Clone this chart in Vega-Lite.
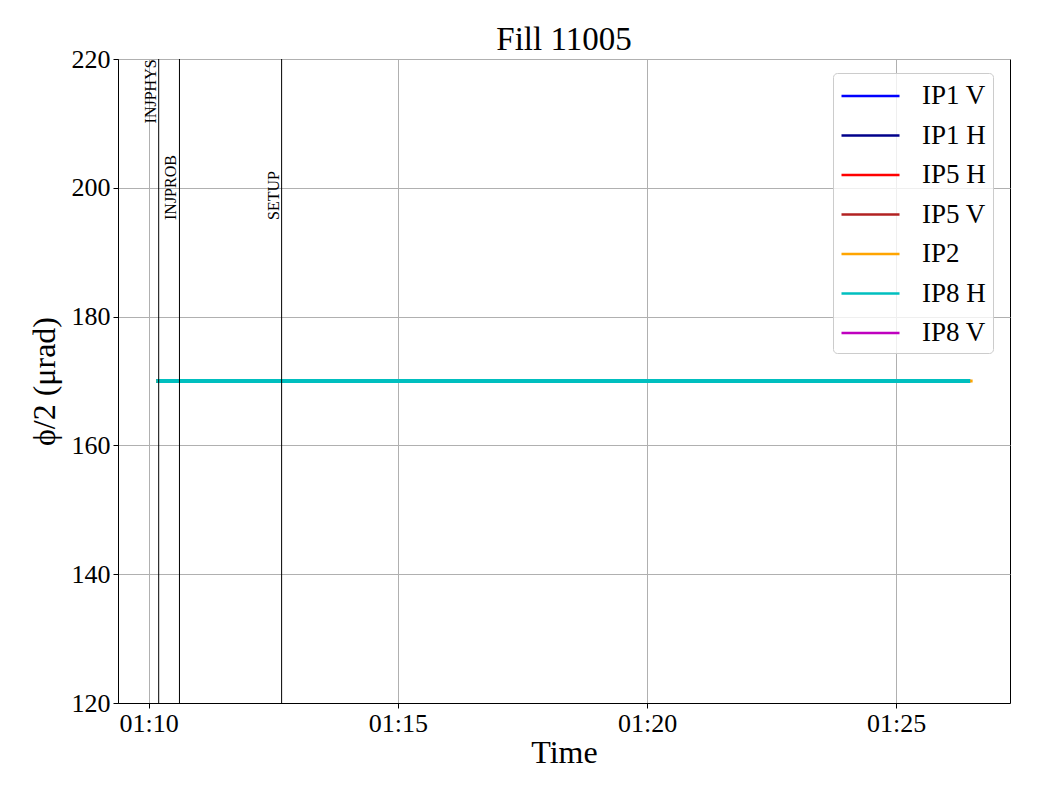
{
  "$schema": "https://vega.github.io/schema/vega-lite/v6.json",
  "width": 892,
  "height": 644,
  "autosize": "none",
  "padding": {"left": 118, "top": 59, "right": 30, "bottom": 97},
  "background": "white",
  "config": {
    "font": "Liberation Serif",
    "view": {"stroke": "black", "strokeWidth": 1},
    "axis": {
      "labelFont": "Liberation Serif",
      "titleFont": "Liberation Serif",
      "labelFontSize": 26,
      "titleFontSize": 32,
      "titleFontWeight": "normal",
      "labelColor": "black",
      "titleColor": "black",
      "domainColor": "black",
      "tickColor": "black",
      "tickSize": 5,
      "gridColor": "#b0b0b0",
      "gridWidth": 1,
      "grid": true
    }
  },
  "title": {
    "text": "Fill 11005",
    "font": "Liberation Serif",
    "fontSize": 33,
    "fontWeight": "normal",
    "color": "black",
    "anchor": "middle",
    "offset": -11
  },
  "datasets": {
    "series": [
      {"t": "2025-08-01T01:10:09Z", "value": 170, "series": "IP1 V"},
      {"t": "2025-08-01T01:26:29Z", "value": 170, "series": "IP1 V"},
      {"t": "2025-08-01T01:10:09Z", "value": 170, "series": "IP1 H"},
      {"t": "2025-08-01T01:26:29Z", "value": 170, "series": "IP1 H"},
      {"t": "2025-08-01T01:10:09Z", "value": 170, "series": "IP5 H"},
      {"t": "2025-08-01T01:26:29Z", "value": 170, "series": "IP5 H"},
      {"t": "2025-08-01T01:10:09Z", "value": 170, "series": "IP5 V"},
      {"t": "2025-08-01T01:26:29Z", "value": 170, "series": "IP5 V"},
      {"t": "2025-08-01T01:10:09Z", "value": 170, "series": "IP2"},
      {"t": "2025-08-01T01:26:32Z", "value": 170, "series": "IP2"},
      {"t": "2025-08-01T01:10:09Z", "value": 170, "series": "IP8 H"},
      {"t": "2025-08-01T01:26:29Z", "value": 170, "series": "IP8 H"}
    ],
    "events": [
      {"t": "2025-08-01T01:10:12Z", "label": "INJPHYS", "ly": 210},
      {"t": "2025-08-01T01:10:37Z", "label": "INJPROB", "ly": 195},
      {"t": "2025-08-01T01:12:40Z", "label": "SETUP", "ly": 195}
    ]
  },
  "layer": [
    {
      "data": {"name": "series"},
      "mark": {"type": "line"},
      "encoding": {
        "x": {
          "field": "t",
          "type": "temporal",
          "title": "Time",
          "scale": {
            "type": "utc",
            "domain": [
              {"year": 2025, "month": 8, "date": 1, "hours": 1, "minutes": 9, "seconds": 23, "utc": true},
              {"year": 2025, "month": 8, "date": 1, "hours": 1, "minutes": 27, "seconds": 17, "utc": true}
            ]
          },
          "axis": {
            "format": "%H:%M",
            "formatType": "utc",
            "values": [
              {"year": 2025, "month": 8, "date": 1, "hours": 1, "minutes": 10, "utc": true},
              {"year": 2025, "month": 8, "date": 1, "hours": 1, "minutes": 15, "utc": true},
              {"year": 2025, "month": 8, "date": 1, "hours": 1, "minutes": 20, "utc": true},
              {"year": 2025, "month": 8, "date": 1, "hours": 1, "minutes": 25, "utc": true}
            ],
            "labelFont": "Liberation Serif",
            "titleFont": "Liberation Serif",
            "labelPadding": 2,
            "titlePadding": 1,
            "labelFlush": false
          }
        },
        "y": {
          "field": "value",
          "type": "quantitative",
          "title": "ϕ/2 (μrad)",
          "scale": {"domain": [120, 220], "nice": false, "zero": false},
          "axis": {
            "values": [120, 140, 160, 180, 200, 220],
            "labelFont": "Liberation Serif",
            "titleFont": "Liberation Serif",
            "labelPadding": 3,
            "titlePadding": 10
          }
        },
        "color": {
          "field": "series",
          "type": "nominal",
          "scale": {
            "domain": ["IP1 V", "IP1 H", "IP5 H", "IP5 V", "IP2", "IP8 H", "IP8 V"],
            "range": ["#0000ff", "#00008b", "#ff0000", "#b22222", "#ffa500", "#00bfbf", "#bf00bf"]
          },
          "legend": {
            "title": null,
            "orient": "none",
            "legendX": 715,
            "legendY": 14,
            "symbolType": "M-1,0H3",
            "symbolSize": 841,
            "symbolStrokeWidth": 2.5,
            "labelFont": "Liberation Serif",
            "labelFontSize": 27,
            "labelColor": "black",
            "labelOffset": 50,
            "rowPadding": 10.5,
            "padding": 7,
            "strokeColor": "#cccccc",
            "cornerRadius": 4,
            "fillColor": "rgba(255,255,255,0.8)"
          }
        },
        "strokeWidth": {
          "condition": {"test": "datum.series === 'IP8 H'", "value": 4},
          "value": 3
        }
      }
    },
    {
      "data": {"name": "events"},
      "mark": {"type": "rule", "color": "black", "strokeWidth": 1},
      "encoding": {
        "x": {"field": "t", "type": "temporal"}
      }
    },
    {
      "data": {"name": "events"},
      "mark": {
        "type": "text",
        "angle": 270,
        "align": "left",
        "baseline": "bottom",
        "font": "Liberation Serif",
        "fontSize": 16,
        "color": "black"
      },
      "encoding": {
        "x": {"field": "t", "type": "temporal"},
        "y": {"field": "ly", "type": "quantitative"},
        "text": {"field": "label"}
      }
    }
  ]
}
